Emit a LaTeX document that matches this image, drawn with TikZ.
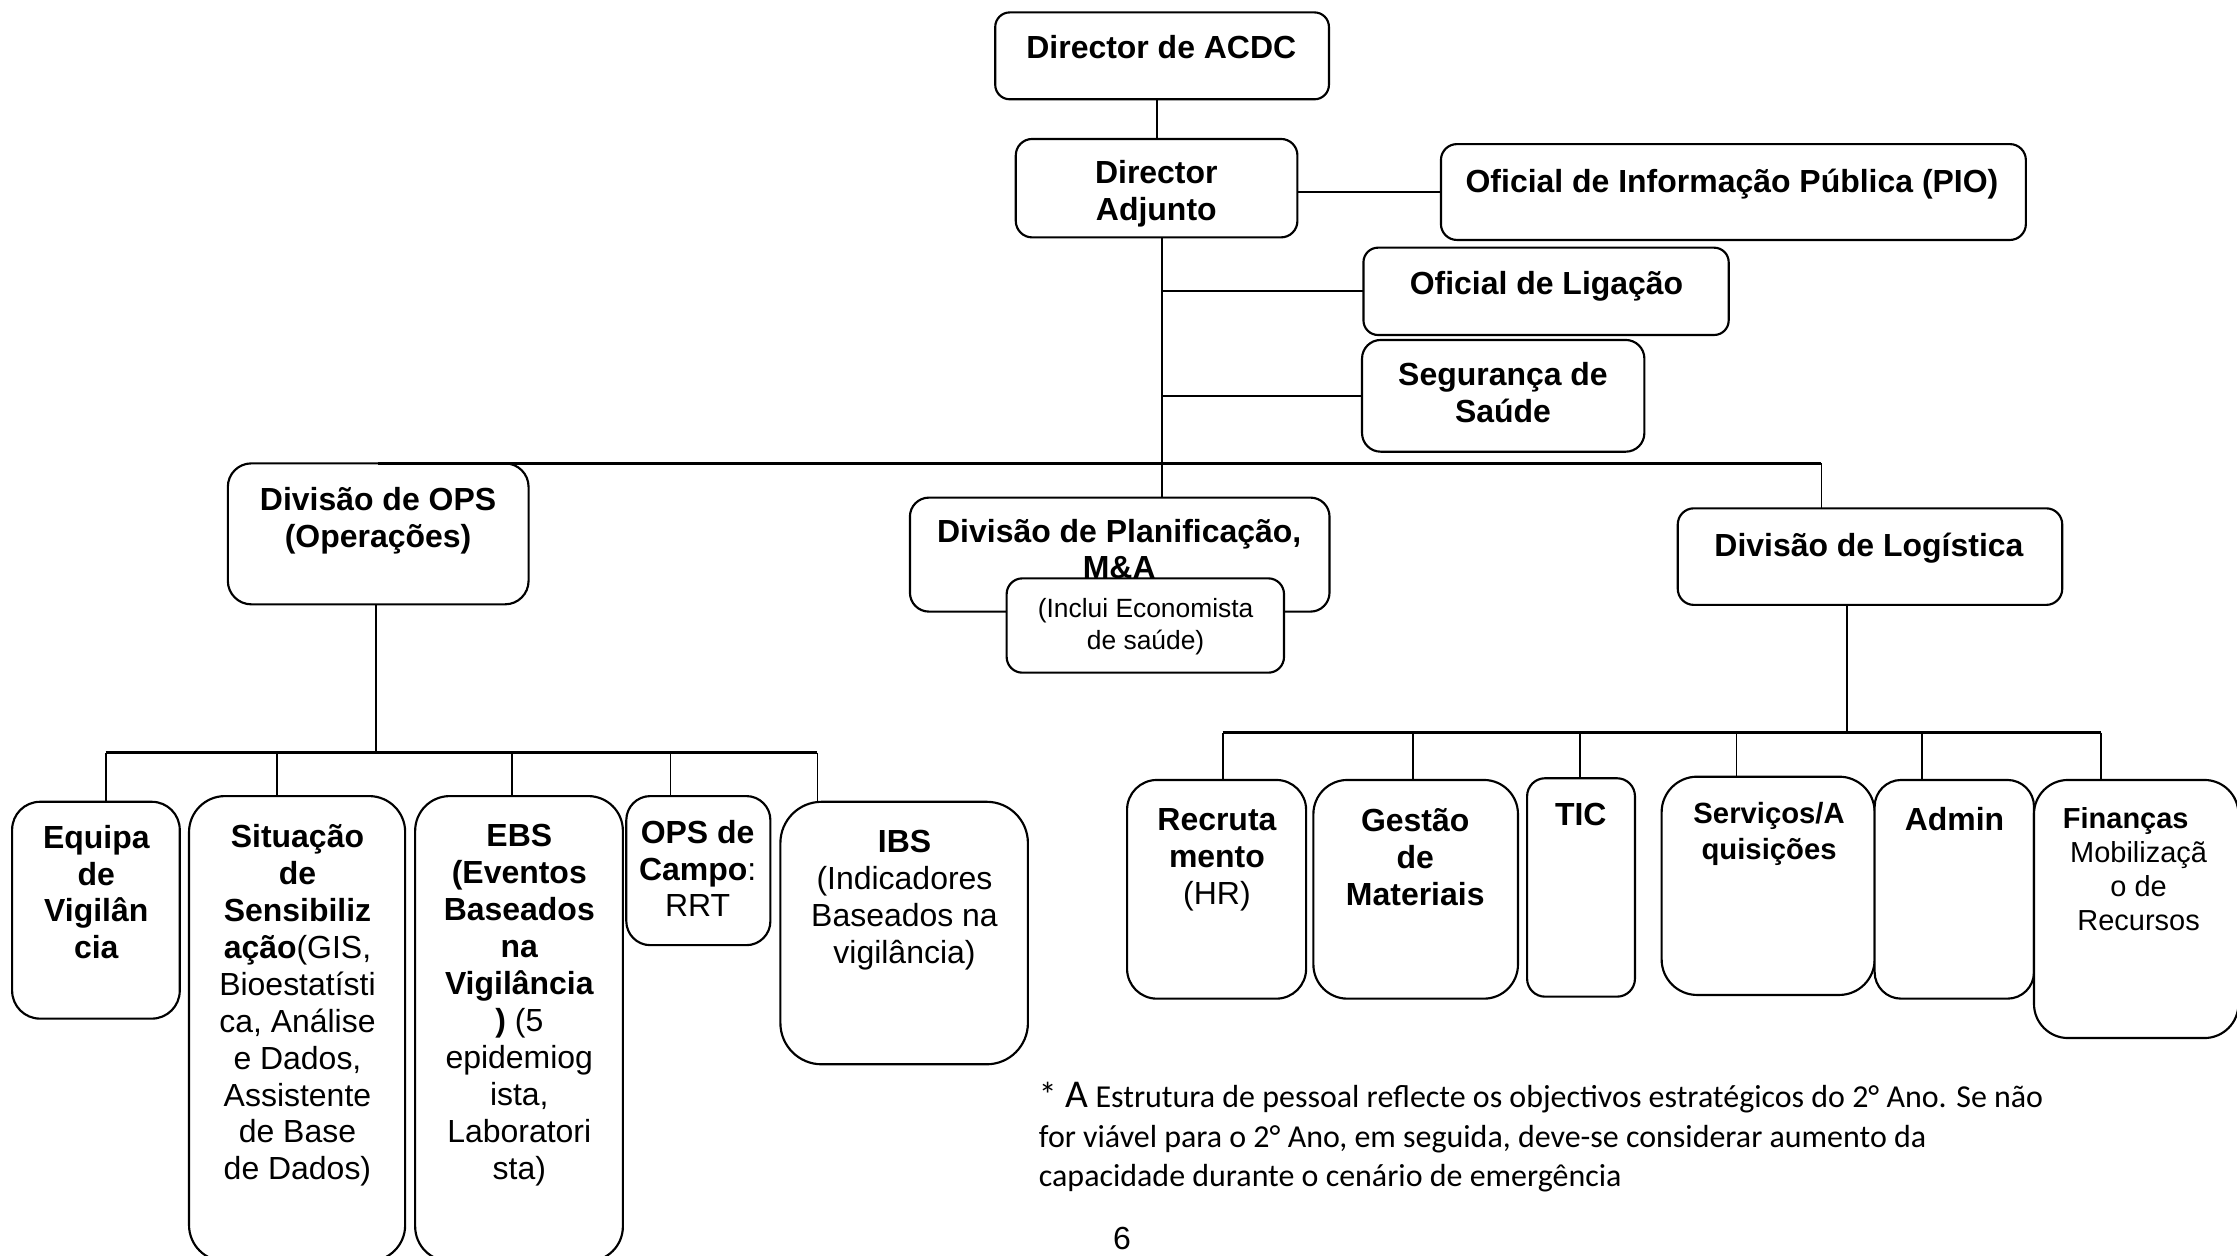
\documentclass[tikz,border=0pt]{standalone}
\usepackage{fontspec}
\setmainfont{Liberation Sans}
\newfontfamily\calibfont{Carlito}
\newcommand\orgbox[5]{%
  \pgfmathsetmacro\obW{#4-#2}%
  \pgfmathsetmacro\obH{#5-#3}%
  \pgfmathsetmacro\obR{min(\obW,\obH)/6}%
  \node[box, rounded corners=\obR pt, minimum width=\obW pt, minimum height=\obH pt, anchor=north west] (#1) at (#2,#3) {};}
\begin{document}
\begin{tikzpicture}[x=1pt,y=-1pt,
  box/.style={draw, line width=1.5pt, fill=white, inner sep=0pt, outer sep=0pt},
  conn/.style={line width=1.3pt},
  bar/.style={line width=1.8pt},
  txt/.style={font=\fontsize{22.4}{25.9}\selectfont\bfseries, align=center, inner sep=0pt, anchor=north, execute at begin node=\strut},
  inctxt/.style={font=\fontsize{18.5}{22.5}\selectfont, align=center, inner sep=0pt, anchor=north, execute at begin node=\strut},
  servtxt/.style={font=\fontsize{20.5}{25}\selectfont\bfseries, align=center, inner sep=0pt, anchor=north, execute at begin node=\strut},
  fintxt/.style={font=\fontsize{20.3}{24}\selectfont\bfseries, align=center, inner sep=0pt, anchor=north, execute at begin node=\strut},
  foot/.style={font=\calibfont\fontsize{22.4}{27}\selectfont, inner sep=0pt, anchor=base west},
  pgnum/.style={font=\fontsize{22.4}{26}\selectfont, inner sep=0pt, anchor=base}]
\useasboundingbox (0,0) rectangle (1568,880);
\clip (0,0) rectangle (1568,880);
\fill[white] (0,0) rectangle (1568,880);

% boxes
\orgbox{dir}{697.6}{8.7}{931.5}{69.6}
\orgbox{adj}{712}{97.4}{909.4}{166.4}
\orgbox{pio}{1010}{101}{1420}{168.2}
\orgbox{lig}{955.7}{173.6}{1211.7}{234.8}
\orgbox{seg}{954.7}{238.3}{1152.6}{316.6}
\orgbox{ops}{159.7}{324.8}{370.5}{423.6}
\orgbox{plan}{637.8}{348.8}{931.9}{428.7}
\orgbox{log}{1176}{356.3}{1445.5}{424}
\orgbox{equ}{8.5}{562}{126}{714}
\orgbox{sit}{132.5}{558}{284}{884}
\orgbox{ebs}{291}{558}{436.6}{884}
\orgbox{camp}{439}{558}{540}{662.5}
\orgbox{ibs}{547}{562}{720.5}{746}
\orgbox{rec}{790}{546.7}{915.5}{700}
\orgbox{ges}{920.6}{546.7}{1064}{700}
\orgbox{tic}{1070.4}{545.5}{1146}{698.6}
\orgbox{serv}{1164.7}{544.4}{1314}{697.4}
\orgbox{adm}{1314}{546.7}{1425.7}{700}
\orgbox{fin}{1425.7}{546.7}{1569}{727.6}

% connectors, top part
\draw[conn] (adj.north) -- (adj.north |- dir.south);
\draw[conn] (pio.west) -- (pio.west -| adj.east);
\coordinate (tr) at ([xshift=3.6pt]adj.south);
\draw[conn] (tr) -- (tr |- plan.north);
\draw[conn] (lig.west -| tr) -- (lig.west);
\draw[conn] (seg.west -| tr) -- (seg.west);
\coordinate (lgx) at (1276.7,324.8);
\draw[bar] (ops.north) -- (lgx);
\draw[conn] (lgx) -- (lgx |- log.north);

% operations branch
\coordinate (ob) at (263.5,527.5);
\draw[conn] (ob |- ops.south) -- (ob);
\coordinate (d1) at (74,527.5);
\coordinate (d2) at (194,527.5);
\coordinate (d3) at (359,527.5);
\coordinate (d4) at (470,527.5);
\coordinate (d5) at (573,527.5);
\draw[bar] (d1) -- (d5);
\draw[conn] (d1) -- (d1 |- equ.north);
\draw[conn] (d2) -- (d2 |- sit.north);
\draw[conn] (d3) -- (d3 |- ebs.north);
\draw[conn] (d4) -- (d4 |- camp.north);
\draw[conn] (d5) -- (d5 |- ibs.north);

% logistics branch
\coordinate (lb) at (1294.6,513.5);
\draw[conn] (lb |- log.south) -- (lb);
\coordinate (e1) at (857,513.5);
\coordinate (e2) at (990.7,513.5);
\coordinate (e3) at (1107.4,513.5);
\coordinate (e4) at (1217.2,513.5);
\coordinate (e5) at (1347,513.5);
\coordinate (e6) at (1472.4,513.5);
\draw[bar] (e1) -- (e6);
\draw[conn] (e1) -- (e1 |- rec.north);
\draw[conn] (e2) -- (e2 |- ges.north);
\draw[conn] (e3) -- (e3 |- tic.north);
\draw[conn] (e4) -- (e4 |- serv.north);
\draw[conn] (e5) -- (e5 |- adm.north);
\draw[conn] (e6) -- (e6 |- fin.north);

% overlapping sub box
\orgbox{inc}{705.6}{405.4}{900}{471.5}

% texts
\node[txt] (dirT) at (814,22.6) {Director de ACDC};
\node[txt] (adjT) at (810.5,112) {Director\\Adjunto};
\node[txt] (pioT) at (1214,116.5) {Oficial de Informação Pública (PIO)};
\node[txt] (ligT) at (1084,188) {Oficial de Ligação};
\node[txt] (segT) at (1053.5,254) {Segurança de\\Saúde};
\node[txt] (opsT) at (265,341.5) {Divisão de OPS\\(Operações)};
\node[txt] (planT) at (784.5,363.5) {Divisão de Planificação,\\M\&A};
\node[inctxt] (incT) at (803,419.5) {(Inclui Economista\\de saúde)};
\node[txt] (logT) at (1310,371.5) {Divisão de Logística};

\node[txt] (equT) at (67.5,578) {Equipa\\de\\Vigilân\\cia};
\node[txt] (sitT) at (208.5,577.5) {Situação\\de\\Sensibiliz\\ação\textmd{(GIS,}\\\textmd{Bioestatísti}\\\textmd{ca, Análise}\\\textmd{e Dados,}\\\textmd{Assistente}\\\textmd{de Base}\\\textmd{de Dados)}};
\node[txt] (ebsT) at (364,577.5) {EBS\\(Eventos\\Baseados\\na\\Vigilância\\)\textmd{ (5}\\\textmd{epidemiog}\\\textmd{ista,}\\\textmd{Laboratori}\\\textmd{sta)}};
\node[txt] (campT) at (489,574.5) {OPS de\\Campo\textmd{:}\\\textmd{RRT}};
\node[txt] (ibsT) at (634,581.5) {IBS\\\textmd{(Indicadores}\\\textmd{Baseados na}\\\textmd{vigilância)}};

\node[txt] (recT) at (853,566.5) {Recruta\\mento\\\textmd{(HR)}};
\node[txt] (gesT) at (992,566.5) {Gestão\\de\\Materiais};
\node[txt] (ticT) at (1108,560.5) {TIC};
\node[servtxt] (servT) at (1240,562.5) {Serviços/A\\quisições};
\node[txt] (admT) at (1370,563.5) {Admin};
\node[fintxt] (finT) at (1499,565.5) {Finanças\hspace*{18pt}\\\textmd{Mobilizaçã}\\\textmd{o de}\\\textmd{Recursos}};

% footnote and page number
\node[foot] (f1) at (728,776) {{\fontsize{25}{30}\selectfont *}{\fontsize{27.6}{30}\selectfont{} A} Estrutura de pessoal reflecte os objectivos estratégicos do 2° Ano. Se não};
\node[foot] (f2) at (728,804) {for viável para o 2° Ano, em seguida, deve-se considerar aumento da};
\node[foot] (f3) at (728,831.5) {capacidade durante o cenário de emergência};
\node[pgnum] (pg) at (786.5,875.5) {6};
\end{tikzpicture}
\end{document}
